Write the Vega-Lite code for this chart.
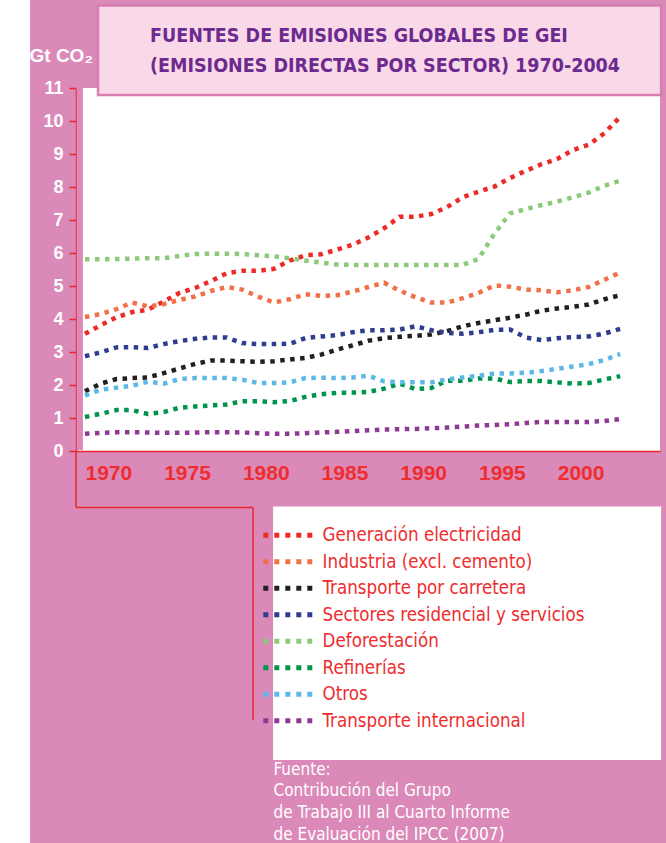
{
  "$schema": "https://vega.github.io/schema/vega-lite/v6.json",
  "width": 584,
  "height": 363,
  "autosize": {"type": "none"},
  "padding": {"left": 76, "top": 88, "right": 6, "bottom": 392},
  "background": "#DB89B8",
  "config": {
    "view": {"fill": "white", "stroke": null},
    "axis": {"grid": false, "zindex": 1, "labelOverlap": false, "labelSeparation": 0},
    "axisY": {"labelOverlap": false, "tickCount": 12}
  },
  "datasets": {
    "wide": [
      {"year":1970,"elec":3.55,"ind":4.06,"trans":1.81,"res":2.87,"def":5.81,"ref":1.03,"otros":1.68,"intl":0.52},
      {"year":1971,"elec":3.81,"ind":4.15,"trans":2.04,"res":2.99,"def":5.81,"ref":1.13,"otros":1.86,"intl":0.55},
      {"year":1972,"elec":4.05,"ind":4.3,"trans":2.18,"res":3.14,"def":5.82,"ref":1.24,"otros":1.92,"intl":0.57},
      {"year":1973,"elec":4.21,"ind":4.5,"trans":2.21,"res":3.15,"def":5.83,"ref":1.24,"otros":1.98,"intl":0.57},
      {"year":1974,"elec":4.28,"ind":4.38,"trans":2.23,"res":3.12,"def":5.84,"ref":1.12,"otros":2.1,"intl":0.56},
      {"year":1975,"elec":4.53,"ind":4.45,"trans":2.36,"res":3.24,"def":5.84,"ref":1.18,"otros":2.04,"intl":0.55},
      {"year":1976,"elec":4.79,"ind":4.58,"trans":2.5,"res":3.33,"def":5.91,"ref":1.31,"otros":2.18,"intl":0.55},
      {"year":1977,"elec":4.94,"ind":4.68,"trans":2.64,"res":3.4,"def":5.97,"ref":1.35,"otros":2.21,"intl":0.56},
      {"year":1978,"elec":5.15,"ind":4.85,"trans":2.74,"res":3.44,"def":5.98,"ref":1.38,"otros":2.21,"intl":0.57},
      {"year":1979,"elec":5.39,"ind":4.97,"trans":2.74,"res":3.44,"def":5.98,"ref":1.41,"otros":2.21,"intl":0.57},
      {"year":1980,"elec":5.46,"ind":4.89,"trans":2.72,"res":3.27,"def":5.97,"ref":1.51,"otros":2.16,"intl":0.56},
      {"year":1981,"elec":5.46,"ind":4.68,"trans":2.7,"res":3.24,"def":5.93,"ref":1.51,"otros":2.06,"intl":0.54},
      {"year":1982,"elec":5.52,"ind":4.5,"trans":2.72,"res":3.24,"def":5.9,"ref":1.48,"otros":2.06,"intl":0.52},
      {"year":1983,"elec":5.77,"ind":4.6,"trans":2.77,"res":3.25,"def":5.84,"ref":1.51,"otros":2.08,"intl":0.52},
      {"year":1984,"elec":5.93,"ind":4.75,"trans":2.82,"res":3.42,"def":5.77,"ref":1.64,"otros":2.21,"intl":0.54},
      {"year":1985,"elec":5.96,"ind":4.7,"trans":2.92,"res":3.47,"def":5.71,"ref":1.72,"otros":2.22,"intl":0.56},
      {"year":1986,"elec":6.1,"ind":4.72,"trans":3.07,"res":3.51,"def":5.65,"ref":1.76,"otros":2.21,"intl":0.58},
      {"year":1987,"elec":6.25,"ind":4.83,"trans":3.2,"res":3.6,"def":5.64,"ref":1.77,"otros":2.23,"intl":0.6},
      {"year":1988,"elec":6.47,"ind":4.97,"trans":3.34,"res":3.66,"def":5.64,"ref":1.79,"otros":2.28,"intl":0.63},
      {"year":1989,"elec":6.75,"ind":5.1,"trans":3.42,"res":3.66,"def":5.64,"ref":1.89,"otros":2.11,"intl":0.65},
      {"year":1990,"elec":7.1,"ind":4.86,"trans":3.46,"res":3.68,"def":5.64,"ref":2.04,"otros":2.08,"intl":0.66},
      {"year":1991,"elec":7.1,"ind":4.66,"trans":3.49,"res":3.78,"def":5.64,"ref":1.88,"otros":2.08,"intl":0.67},
      {"year":1992,"elec":7.18,"ind":4.5,"trans":3.53,"res":3.66,"def":5.64,"ref":1.91,"otros":2.08,"intl":0.69},
      {"year":1993,"elec":7.39,"ind":4.5,"trans":3.63,"res":3.58,"def":5.64,"ref":2.13,"otros":2.17,"intl":0.71},
      {"year":1994,"elec":7.69,"ind":4.63,"trans":3.78,"res":3.55,"def":5.64,"ref":2.13,"otros":2.23,"intl":0.74},
      {"year":1995,"elec":7.86,"ind":4.79,"trans":3.88,"res":3.6,"def":5.82,"ref":2.2,"otros":2.28,"intl":0.77},
      {"year":1996,"elec":8.01,"ind":5.02,"trans":3.96,"res":3.67,"def":6.58,"ref":2.2,"otros":2.35,"intl":0.79},
      {"year":1997,"elec":8.27,"ind":4.98,"trans":4.04,"res":3.68,"def":7.2,"ref":2.09,"otros":2.35,"intl":0.81},
      {"year":1998,"elec":8.49,"ind":4.89,"trans":4.13,"res":3.44,"def":7.33,"ref":2.12,"otros":2.37,"intl":0.85},
      {"year":1999,"elec":8.69,"ind":4.87,"trans":4.25,"res":3.36,"def":7.45,"ref":2.12,"otros":2.42,"intl":0.88},
      {"year":2000,"elec":8.85,"ind":4.81,"trans":4.32,"res":3.42,"def":7.56,"ref":2.08,"otros":2.49,"intl":0.88},
      {"year":2001,"elec":9.12,"ind":4.87,"trans":4.37,"res":3.45,"def":7.69,"ref":2.04,"otros":2.56,"intl":0.88},
      {"year":2002,"elec":9.28,"ind":4.97,"trans":4.44,"res":3.47,"def":7.83,"ref":2.06,"otros":2.63,"intl":0.88},
      {"year":2003,"elec":9.63,"ind":5.19,"trans":4.6,"res":3.56,"def":8.04,"ref":2.17,"otros":2.76,"intl":0.91},
      {"year":2004,"elec":10.13,"ind":5.41,"trans":4.72,"res":3.7,"def":8.19,"ref":2.27,"otros":2.94,"intl":0.97}
    ],
    "names": [
      {"k":"elec","sector":"Generación electricidad"},
      {"k":"ind","sector":"Industria (excl. cemento)"},
      {"k":"trans","sector":"Transporte por carretera"},
      {"k":"res","sector":"Sectores residencial y servicios"},
      {"k":"def","sector":"Deforestación"},
      {"k":"ref","sector":"Refinerías"},
      {"k":"otros","sector":"Otros"},
      {"k":"intl","sector":"Transporte internacional"}
    ]
  },
  "layer": [
    {
      "data": {"name": "wide"},
      "transform": [
        {"fold": ["elec", "ind", "trans", "res", "def", "ref", "otros", "intl"], "as": ["k", "value"]},
        {"lookup": "k", "from": {"data": {"name": "names"}, "key": "k", "fields": ["sector"]}}
      ],
      "mark": {"type": "line", "strokeWidth": 4.5, "strokeDash": [4.5, 5.5], "strokeCap": "butt"},
      "encoding": {
        "x": {
          "field": "year", "type": "quantitative",
          "scale": {"domain": [1969.43, 2006.53], "nice": false, "zero": false},
          "axis": {
            "values": [1970, 1975, 1980, 1985, 1990, 1995, 2000],
            "format": "d",
            "ticks": false,
            "domainColor": "#E8262B", "domainWidth": 1.5,
            "labelAlign": "left", "labelBaseline": "top", "labelPadding": 11,
            "labelFlush": false, "labelOverlap": false, "labelBound": false,
            "labelColor": "#EE2D2F", "labelFont": "Liberation Sans", "labelFontWeight": "bold", "labelFontSize": 21,
            "title": ["Fuente:", "Contribución del Grupo", "de Trabajo III al Cuarto Informe", "de Evaluación del IPCC (2007)"],
            "titleX": 197, "titleY": 323, "titleAlign": "left", "titleAnchor": "start", "titleBaseline": "alphabetic",
            "titleColor": "white", "titleFont": "DejaVu Sans Condensed",
            "titleFontSize": 17, "titleFontWeight": "normal", "titleLineHeight": 21.8
          }
        },
        "y": {
          "field": "value", "type": "quantitative",
          "scale": {"domain": [0, 11], "nice": false, "zero": false},
          "axis": {
            "values": [0, 1, 2, 3, 4, 5, 6, 7, 8, 9, 10, 11],
            "tickCount": 12,
            "labelOverlap": false, "labelFlush": false, "labelBound": false,
            "domainColor": "#E8262B", "domainWidth": 1.5,
            "tickColor": "#E8262B", "tickWidth": 1.5, "tickSize": 7,
            "labelPadding": 6, "labelColor": "white", "labelFont": "Liberation Sans", "labelFontWeight": "bold", "labelFontSize": 18,
            "title": "Gt CO₂", "titleAngle": 0, "titleX": -47, "titleY": -27, "titleAlign": "left", "titleBaseline": "alphabetic",
            "titleColor": "white", "titleFont": "Liberation Sans", "titleFontWeight": "bold", "titleFontSize": 19
          }
        },
        "color": {
          "field": "sector", "type": "nominal",
          "scale": {
            "domain": ["Generación electricidad", "Industria (excl. cemento)", "Transporte por carretera", "Sectores residencial y servicios", "Deforestación", "Refinerías", "Otros", "Transporte internacional"],
            "range": ["#EE2A26", "#F07048", "#231F20", "#2E3D8F", "#8DC97B", "#00934A", "#5BB8E8", "#8E3A93"]
          },
          "legend": {
            "orient": "none", "legendX": 188, "legendY": 438,
            "title": null, "padding": 0,
            "symbolType": "M-10,0H39", "symbolSize": 4, "symbolStrokeWidth": 5, "symbolDash": [5, 6],
            "labelFont": "DejaVu Sans Condensed", "labelFontSize": 18.6,
            "labelColor": "#EE2D2F", "labelOffset": 40, "labelLimit": 400, "rowPadding": 5.5
          }
        }
      }
    },
    {
      "data": {"values": [{}]},
      "mark": {"type": "rect", "fill": "white"},
      "encoding": {
        "x": {"datum": 1963, "type": "quantitative"},
        "x2": {"datum": 1966.51},
        "y": {"datum": 13.7, "type": "quantitative"},
        "y2": {"datum": -11.9}
      }
    },
    {
      "data": {"values": [{}]},
      "mark": {"type": "rect", "fill": "#DB89B8"},
      "encoding": {
        "x": {"datum": 1969.47, "type": "quantitative"},
        "x2": {"datum": 1969.87},
        "y": {"datum": 11, "type": "quantitative"},
        "y2": {"datum": 0.03}
      }
    },
    {
      "data": {"values": [{}]},
      "mark": {"type": "rect", "fill": "#F9D8E8", "stroke": "#D67DB1", "strokeWidth": 2.5},
      "encoding": {
        "x": {"datum": 1970.83, "type": "quantitative"},
        "x2": {"datum": 2006.6},
        "y": {"datum": 13.5, "type": "quantitative"},
        "y2": {"datum": 10.79}
      }
    },
    {
      "data": {"values": [{}]},
      "mark": {"type": "rect", "fill": "white"},
      "encoding": {
        "x": {"datum": 1981.95, "type": "quantitative"},
        "x2": {"datum": 2006.6},
        "y": {"datum": -1.68, "type": "quantitative"},
        "y2": {"datum": -9.36}
      }
    },
    {
      "data": {"values": [{}]},
      "mark": {"type": "rule", "color": "#E8262B", "strokeWidth": 1.5},
      "encoding": {
        "x": {"datum": 1969.43, "type": "quantitative"},
        "y": {"datum": 0, "type": "quantitative"},
        "y2": {"datum": -1.71}
      }
    },
    {
      "data": {"values": [{}]},
      "mark": {"type": "rule", "color": "#E8262B", "strokeWidth": 1.5},
      "encoding": {
        "x": {"datum": 1969.43, "type": "quantitative"},
        "x2": {"datum": 1980.68},
        "y": {"datum": -1.71, "type": "quantitative"}
      }
    },
    {
      "data": {"values": [{}]},
      "mark": {"type": "rule", "color": "#E8262B", "strokeWidth": 1.5},
      "encoding": {
        "x": {"datum": 1980.68, "type": "quantitative"},
        "y": {"datum": -1.71, "type": "quantitative"},
        "y2": {"datum": -8.15}
      }
    },
    {
      "data": {"values": [{}]},
      "mark": {"type": "text", "text": "FUENTES DE EMISIONES GLOBALES DE GEI", "align": "left", "baseline": "alphabetic", "font": "DejaVu Sans Condensed", "fontWeight": "bold", "fontSize": 19.5, "color": "#6C2A8F"},
      "encoding": {
        "x": {"datum": 1974.13, "type": "quantitative"},
        "y": {"datum": 12.38, "type": "quantitative"}
      }
    },
    {
      "data": {"values": [{}]},
      "mark": {"type": "text", "text": "(EMISIONES DIRECTAS POR SECTOR) 1970-2004", "align": "left", "baseline": "alphabetic", "font": "DejaVu Sans Condensed", "fontWeight": "bold", "fontSize": 19.5, "color": "#6C2A8F"},
      "encoding": {
        "x": {"datum": 1974.13, "type": "quantitative"},
        "y": {"datum": 11.49, "type": "quantitative"}
      }
    }
  ]
}
